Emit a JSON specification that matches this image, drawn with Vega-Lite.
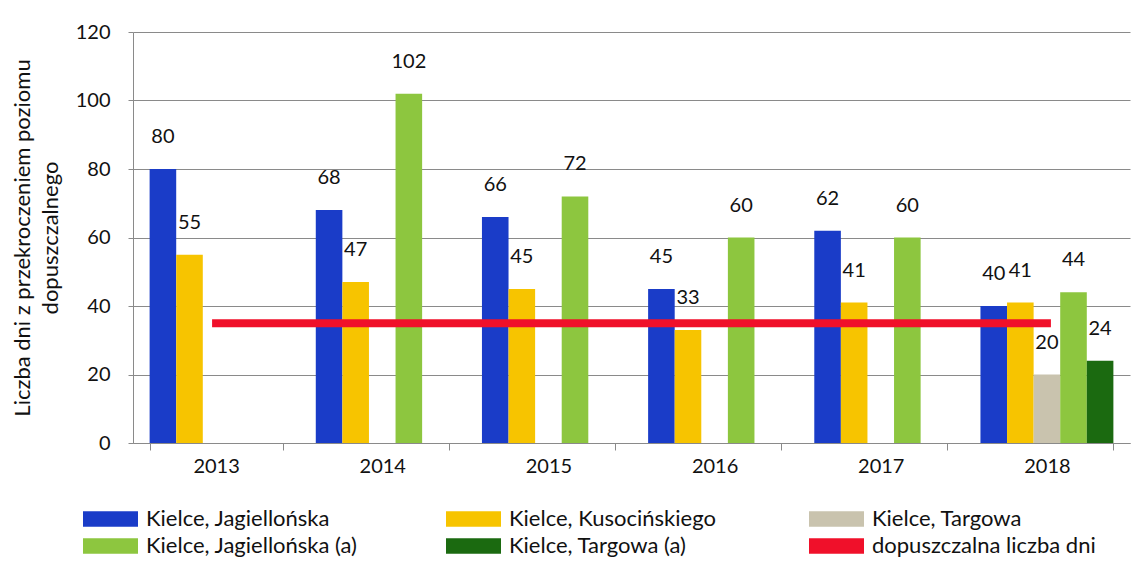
{
  "$schema": "https://vega.github.io/schema/vega-lite/v6.json",
  "width": 997,
  "height": 411,
  "autosize": {"type": "none"},
  "padding": {"left": 133, "top": 32, "right": 2, "bottom": 122},
  "background": "white",
  "config": {
    "font": "Lato",
    "view": {"stroke": null},
    "axis": {"labelFont": "Lato", "titleFont": "Lato", "labelColor": "#111", "titleColor": "#111", "titleFontWeight": "normal"}
  },
  "datasets": {
    "bars": [
      {"year": "2013", "series": "Kielce, Jagiellońska", "value": 80},
      {"year": "2013", "series": "Kielce, Kusocińskiego", "value": 55},
      {"year": "2014", "series": "Kielce, Jagiellońska", "value": 68},
      {"year": "2014", "series": "Kielce, Kusocińskiego", "value": 47},
      {"year": "2014", "series": "Kielce, Jagiellońska (a)", "value": 102},
      {"year": "2015", "series": "Kielce, Jagiellońska", "value": 66},
      {"year": "2015", "series": "Kielce, Kusocińskiego", "value": 45},
      {"year": "2015", "series": "Kielce, Jagiellońska (a)", "value": 72},
      {"year": "2016", "series": "Kielce, Jagiellońska", "value": 45},
      {"year": "2016", "series": "Kielce, Kusocińskiego", "value": 33},
      {"year": "2016", "series": "Kielce, Jagiellońska (a)", "value": 60},
      {"year": "2017", "series": "Kielce, Jagiellońska", "value": 62},
      {"year": "2017", "series": "Kielce, Kusocińskiego", "value": 41},
      {"year": "2017", "series": "Kielce, Jagiellońska (a)", "value": 60},
      {"year": "2018", "series": "Kielce, Jagiellońska", "value": 40},
      {"year": "2018", "series": "Kielce, Kusocińskiego", "value": 41},
      {"year": "2018", "series": "Kielce, Targowa", "value": 20},
      {"year": "2018", "series": "Kielce, Jagiellońska (a)", "value": 44},
      {"year": "2018", "series": "Kielce, Targowa (a)", "value": 24}
    ],
    "limit": [
      {"year": "2013", "limit": 35},
      {"year": "2014", "limit": 35},
      {"year": "2015", "limit": 35},
      {"year": "2016", "limit": 35},
      {"year": "2017", "limit": 35},
      {"year": "2018", "limit": 35}
    ]
  },
  "layer": [
    {
      "data": {"name": "bars"},
      "mark": {"type": "bar"},
      "encoding": {
        "x": {
          "field": "year", "type": "nominal", "sort": "ascending",
          "scale": {"paddingInner": 0.2, "paddingOuter": 0.1},
          "axis": {
            "title": null, "labelAngle": 0, "labelFontSize": 20, "labelPadding": 6,
            "domainColor": "#8a8a8a", "tickColor": "#8a8a8a", "tickSize": 7, "tickBand": "extent"
          }
        },
        "xOffset": {
          "field": "series", "type": "nominal",
          "scale": {"domain": ["Kielce, Jagiellońska", "Kielce, Kusocińskiego", "Kielce, Targowa", "Kielce, Jagiellońska (a)", "Kielce, Targowa (a)"], "paddingInner": 0, "paddingOuter": 0}
        },
        "y": {
          "field": "value", "type": "quantitative",
          "scale": {"domain": [0, 120], "nice": false},
          "axis": {
            "values": [0, 20, 40, 60, 80, 100, 120],
            "title": ["Liczba dni z przekroczeniem poziomu", "dopuszczalnego"],
            "titleFontSize": 22, "titlePadding": 13, "titleLineHeight": 28,
            "labelFontSize": 20, "labelPadding": 18,
            "grid": true, "gridColor": "#8a8a8a", "gridWidth": 1.2,
            "domainColor": "#8a8a8a", "tickColor": "#8a8a8a", "tickSize": 5
          }
        },
        "color": {
          "field": "series", "type": "nominal",
          "scale": {
            "domain": ["Kielce, Jagiellońska", "Kielce, Kusocińskiego", "Kielce, Targowa", "Kielce, Jagiellońska (a)", "Kielce, Targowa (a)", "dopuszczalna liczba dni"],
            "range": ["#1a3cc8", "#f7c400", "#c9c3ae", "#8dc63f", "#1b6a10", "#f0102a"]
          },
          "legend": {
            "title": null,
            "orient": "none",
            "direction": "horizontal",
            "legendX": -50,
            "legendY": 476,
            "columns": 3,
            "gridAlign": "all",
            "columnPadding": 76,
            "rowPadding": 5,
            "clipHeight": 22,
            "symbolType": "M-1,-0.28L1,-0.28L1,0.28L-1,0.28Z",
            "symbolSize": 3025,
            "symbolStrokeWidth": 0,
            "labelFont": "Lato",
            "labelFontSize": 22,
            "labelColor": "#111",
            "labelOffset": 8,
            "labelLimit": 400
          }
        }
      }
    },
    {
      "data": {"name": "bars"},
      "mark": {"type": "text", "baseline": "middle", "dy": -32, "fontSize": 20, "font": "Lato", "color": "#111"},
      "encoding": {
        "x": {"field": "year", "type": "nominal", "sort": "ascending"},
        "xOffset": {"field": "series", "type": "nominal"},
        "y": {"field": "value", "type": "quantitative"},
        "text": {"field": "value", "type": "quantitative"}
      }
    },
    {
      "data": {"name": "limit"},
      "mark": {"type": "line", "color": "#f0102a", "strokeWidth": 8, "strokeCap": "square"},
      "encoding": {
        "x": {"field": "year", "type": "nominal", "sort": "ascending"},
        "y": {"field": "limit", "type": "quantitative"}
      }
    }
  ]
}
